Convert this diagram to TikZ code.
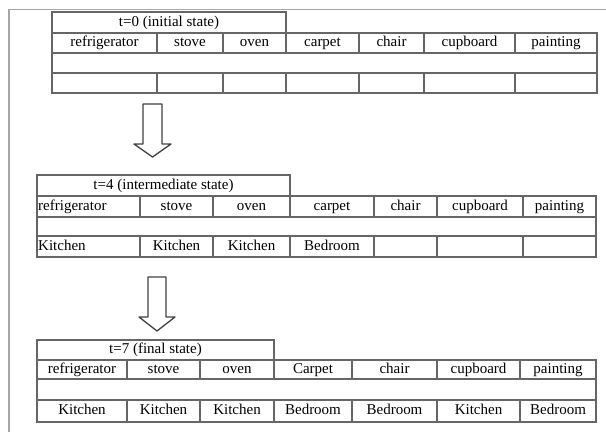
\documentclass[tikz,border=0pt]{standalone}
\usepackage{fontspec}
\setmainfont{Liberation Serif}
\begin{document}
\begin{tikzpicture}[x=1pt,y=-1pt,
        grid/.style={draw=black!60,line width=1.1pt},
        frame/.style={draw=black!35,line width=1.8pt},
        cell/.style={inner sep=0pt,text height=10.5pt,text depth=3.5pt,font=\fontsize{15}{17}\selectfont},
        blockarrow/.style={draw=black!75,line width=1.3pt,line join=round}]
    \useasboundingbox (0,0) rectangle (606,432);

    \draw[frame] (606,9.5) -- (9,9.5) -- (9,432);

    % t=0
    \draw[grid] (52,12) rectangle (286,33);
    \draw[grid] (52,33) rectangle (597,93);
    \draw[grid] (52,53) -- (597,53);
    \draw[grid] (52,73) -- (597,73);
    \foreach \x in {157,223,286,359,424,515} {
        \draw[grid] (\x,33) -- (\x,53);
        \draw[grid] (\x,73) -- (\x,93);
    }
    \node[cell] (head0) at (169,22.5) {t=0 (initial state)};
    \foreach \cx/\nm/\txt in {104.5/fridge/refrigerator,190/stove/stove,254.5/oven/oven,322.5/carpet/carpet,
            391.5/chair/chair,469.5/cupboard/cupboard,556/painting/painting}
        \node[cell] (t0\nm) at (\cx,43) {\txt};

    \draw[blockarrow] (143,104) -- (162,104) -- (162,144) -- (171,144) -- (152.5,157)
        -- (134,144) -- (143,144) -- cycle;

    % t=4
    \draw[grid] (37,175) rectangle (290,196);
    \draw[grid] (37,196) rectangle (596,257);
    \draw[grid] (37,217) -- (596,217);
    \draw[grid] (37,236) -- (596,236);
    \foreach \x in {140,213,290,374,437,523} {
        \draw[grid] (\x,196) -- (\x,217);
        \draw[grid] (\x,236) -- (\x,257);
    }
    \node[cell] (head4) at (163.5,185.5) {t=4 (intermediate state)};
    \node[cell,anchor=west] (t4fridge) at (38,206.5) {refrigerator};
    \foreach \cx/\nm/\txt in {176.5/stove/stove,251.5/oven/oven,332/carpet/carpet,
            405.5/chair/chair,480/cupboard/cupboard,559.5/painting/painting}
        \node[cell] (t4\nm) at (\cx,206.5) {\txt};
    \node[cell,anchor=west] (t4fridgeroom) at (38,246.5) {Kitchen};
    \node[cell] (t4stoveroom) at (176.5,246.5) {Kitchen};
    \node[cell] (t4ovenroom) at (251.5,246.5) {Kitchen};
    \node[cell] (t4carpetroom) at (332,246.5) {Bedroom};

    \draw[blockarrow] (148,277) -- (166,277) -- (166,317) -- (175,317) -- (157,331)
        -- (139,317) -- (148,317) -- cycle;

    % t=7
    \draw[grid] (37,340) rectangle (274,360);
    \draw[grid] (37,360) rectangle (596,422);
    \draw[grid] (37,379) -- (596,379);
    \draw[grid] (37,400) -- (596,400);
    \foreach \x in {127,200,274,352,437,520} {
        \draw[grid] (\x,360) -- (\x,379);
        \draw[grid] (\x,400) -- (\x,422);
    }
    \node[cell] (head7) at (155.5,350) {t=7 (final state)};
    \foreach \cx/\nm/\txt/\room in {82/fridge/refrigerator/Kitchen,163.5/stove/stove/Kitchen,237/oven/oven/Kitchen,
            313/carpet/Carpet/Bedroom,394.5/chair/chair/Bedroom,478.5/cupboard/cupboard/Kitchen,558/painting/painting/Bedroom} {
        \node[cell] (t7\nm) at (\cx,369.5) {\txt};
        \node[cell] (t7\nm room) at (\cx,411) {\room};
    }
\end{tikzpicture}
\end{document}
